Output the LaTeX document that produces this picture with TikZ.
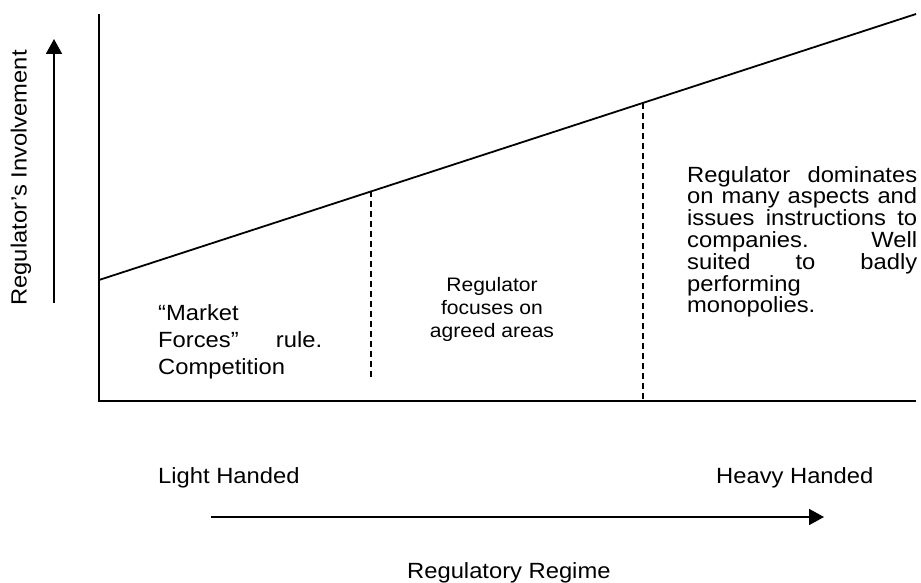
\documentclass[tikz,border=0pt]{standalone}
\usepackage{fontspec}
\setmainfont[FakeStretch=1.08]{Liberation Sans}
\usetikzlibrary{arrows.meta}
\begin{document}
\begin{tikzpicture}[x=1pt,y=-1pt,
  axis/.style={line width=2.2pt},
  slope/.style={line width=1.8pt},
  divider/.style={line width=1.4pt, dash pattern=on 6pt off 4pt},
  dirarrow/.style={line width=1.8pt,-{Triangle[length=15pt,width=16pt]}},
  maintext/.style={inner sep=0pt, font=\fontsize{22}{22}\selectfont},
  smalltext/.style={inner sep=0pt, font=\fontsize{19.5}{23}\selectfont},
]
\useasboundingbox (0,0) rectangle (921,583);
\fill[white] (0,0) rectangle (921,583);
% axes
\coordinate (ytop) at (99,14);
\coordinate (origin) at (99,401);
\coordinate (xend) at (916,401);
\draw[axis] (ytop) -- (origin) -- (xend);
% regulation line
\coordinate (slopestart) at (99,280);
\coordinate (slopeend) at (916,14);
\draw[slope] (slopestart) -- (slopeend);
% dividers
\coordinate (d1top) at (371,191.4);
\coordinate (d1bot) at (371,381);
\coordinate (d2top) at (643,102.9);
\coordinate (d2bot) at (643,399);
\draw[divider] (d1top) -- (d1bot);
\draw[divider] (d2top) -- (d2bot);
% vertical direction arrow
\coordinate (yfoot) at (54,303);
\coordinate (yhead) at (54,39);
\draw[dirarrow] (yfoot) -- (yhead);
\node[maintext, rotate=90] (ylabel) at (21,178) {Regulator’s Involvement};
% region texts (base anchor = baseline of last line)
\node[maintext, anchor=base west, font=\fontsize{22}{27}\selectfont, align=left] (light region) at (158,374)
  {“Market\\ \makebox[164pt][s]{Forces” rule.}\\ Competition};
\node[smalltext, anchor=base, align=center] (mid region) at (492,337)
  {Regulator\\ focuses on\\ agreed areas};
\node[maintext, anchor=base west, font=\fontsize{22}{21.8}\selectfont, align=left] (heavy region) at (687,312.8)
  {\makebox[230pt][s]{Regulator dominates}\\
   \makebox[230pt][s]{on many aspects and}\\
   \makebox[230pt][s]{issues instructions to}\\
   \makebox[230pt][s]{companies. Well}\\
   \makebox[230pt][s]{suited to badly}\\
   performing\\
   monopolies.};
% regime scale
\node[maintext, anchor=base west] (light) at (158,483) {Light Handed};
\node[maintext, anchor=base west] (heavy) at (716,483) {Heavy Handed};
\coordinate (xstart) at (211,517);
\coordinate (xhead) at (824,517);
\draw[dirarrow] (xstart) -- (xhead);
\node[maintext, anchor=base west] (regime) at (407,578) {Regulatory Regime};
\end{tikzpicture}
\end{document}
